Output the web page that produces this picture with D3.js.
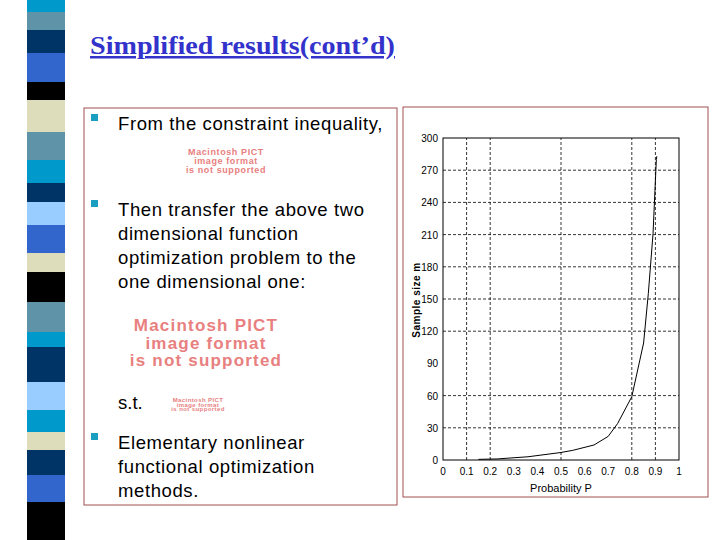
<!DOCTYPE html>
<html><head><meta charset="utf-8">
<script src="https://cdn.jsdelivr.net/npm/d3@7"></script>
<style>body{margin:0;background:#fff}</style></head>
<body><svg id="s" width="720" height="540"></svg>
<script>
const probability=[0.15,0.23,0.36,0.5,0.55,0.64,0.7,0.74,0.8,0.85,0.87,0.89,0.904,0.906];
const sampleSize=[0.6,1,3,7,9,14,22,34,59,109,155,211,280,283];
const xTicks=[0,0.1,0.2,0.3,0.4,0.5,0.6,0.7,0.8,0.9,1];
const yTicks=[0,30,60,90,120,150,180,210,240,270,300];
const xGrid=[0.1,0.2,0.5,0.8,0.9];
const yGrid=[30,60,120,150,180,210,240,270];
const stripeEnds=[12,30,53,82,100,132,160,183,202,225,253,272,302,332,347,382,410,432,450,475,502,540];
const stripeColors=["#0099cc","#5f93a8","#003366","#3366cc","#000","#ddddbb","#5f93a8","#0099cc","#003366","#99ccff","#3366cc","#ddddbb","#000","#5f93a8","#0099cc","#003366","#99ccff","#0099cc","#ddddbb","#003366","#3366cc","#000"];
const svg=d3.select("#s");
let y0=0;
stripeEnds.forEach((e,i)=>{svg.append("rect").attr("x",27).attr("y",y0).attr("width",38).attr("height",e-y0+0.5).attr("fill",stripeColors[i]);y0=e;});
svg.append("text").attr("x",90).attr("y",54).attr("font-family","Liberation Serif").attr("font-weight","bold").attr("font-size",25).attr("fill","#3333cc").attr("text-decoration","underline").attr("textLength",305).attr("lengthAdjust","spacingAndGlyphs").text("Simplified results(cont’d)");
svg.append("rect").attr("x",84).attr("y",108).attr("width",313).attr("height",397).attr("fill","none").attr("stroke","#a05050").attr("stroke-width",1);
const bullets=[[124,["From the constraint inequality,"]],[210,["Then transfer the above two","dimensional function","optimization problem to the","one dimensional one:"]],[443,["Elementary nonlinear","functional optimization","methods."]]];
bullets.forEach(([y,lines])=>{
 svg.append("rect").attr("x",91).attr("y",y-10).attr("width",7).attr("height",7).attr("fill","#1a9fc0");
 lines.forEach((l,i)=>svg.append("text").attr("x",118).attr("y",y+i*24+6).attr("font-family","Liberation Sans").attr("font-size",18.5).attr("letter-spacing",0.6).text(l));
});
svg.append("text").attr("x",118).attr("y",409).attr("font-family","Liberation Sans").attr("font-size",18.5).text("s.t.");
function pict(cx,y,fs,lh,ls){["Macintosh PICT","image format","is not supported"].forEach((t,i)=>svg.append("text").attr("x",cx).attr("y",y+i*lh).attr("text-anchor","middle").attr("font-family","Liberation Sans").attr("font-weight","bold").attr("font-size",fs).attr("letter-spacing",ls).attr("fill","#e88080").text(t));}
pict(226,155,9,9,0.6);pict(206,331,17,17.5,1.2);pict(198,402,6,4.5,0.4);
svg.append("rect").attr("x",403).attr("y",107).attr("width",305).attr("height",390).attr("fill","none").attr("stroke","#a05050");
const x=d3.scaleLinear().domain([0,1]).range([443,679]);
const y=d3.scaleLinear().domain([0,300]).range([460,138]);
const g=svg.append("g").attr("font-family","Liberation Sans Narrow, Liberation Sans").attr("font-size",10);
xGrid.forEach(t=>g.append("line").attr("x1",x(t)).attr("x2",x(t)).attr("y1",y(0)).attr("y2",y(300)).attr("stroke","#000").attr("stroke-dasharray","3,2").attr("stroke-width",0.8));
yGrid.forEach(t=>g.append("line").attr("x1",x(0)).attr("x2",x(1)).attr("y1",y(t)).attr("y2",y(t)).attr("stroke","#000").attr("stroke-dasharray","3,2").attr("stroke-width",0.8));
g.append("rect").attr("x",x(0)).attr("y",y(300)).attr("width",x(1)-x(0)).attr("height",y(0)-y(300)).attr("fill","none").attr("stroke","#000");
xTicks.forEach(t=>g.append("text").attr("x",x(t)).attr("y",475).attr("text-anchor","middle").text(t));
yTicks.forEach(t=>g.append("text").attr("x",438).attr("y",y(t)+4).attr("text-anchor","end").text(t));
g.append("text").attr("x",561).attr("y",492).attr("text-anchor","middle").attr("font-size",11).text("Probability P");
g.append("text").attr("transform","translate(420,300) rotate(-90)").attr("text-anchor","middle").attr("font-weight","bold").attr("font-size",10).attr("letter-spacing",0.5).text("Sample size  m");
g.append("path").datum(probability.map((p,i)=>[p,sampleSize[i]])).attr("d",d3.line().x(d=>x(d[0])).y(d=>y(d[1]))).attr("fill","none").attr("stroke","#000").attr("stroke-width",1);
</script></body></html>
